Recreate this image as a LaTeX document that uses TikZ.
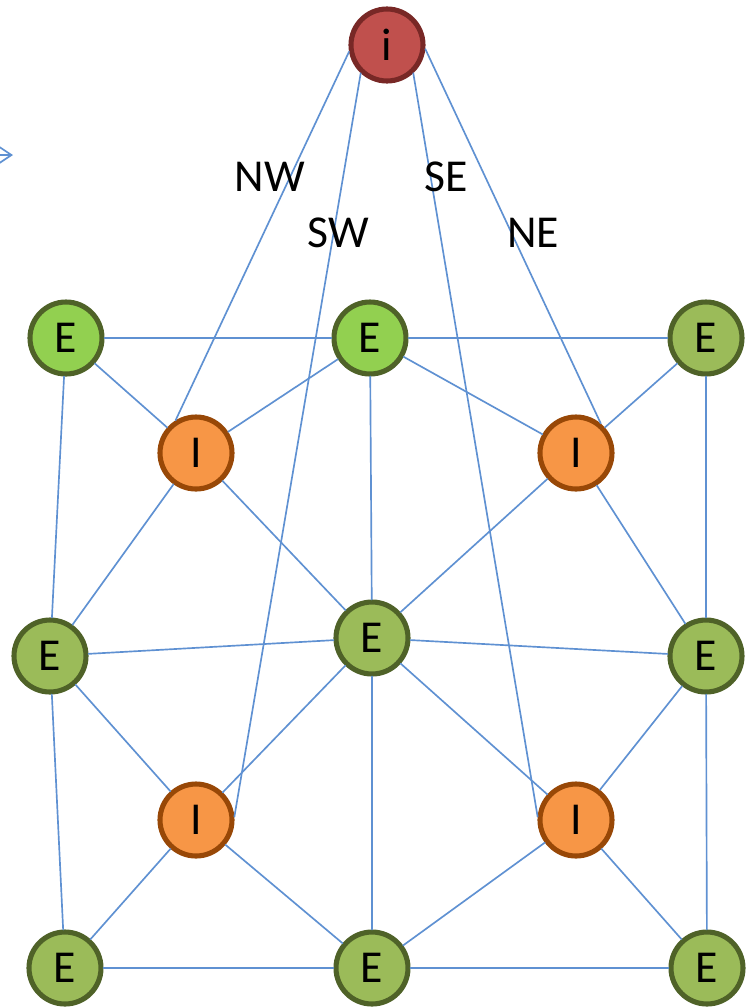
\documentclass[tikz,border=0pt]{standalone}
\usepackage{fontspec}
\setmainfont{Carlito}
\usetikzlibrary{arrows.meta}
\definecolor{edgeblue}{RGB}{95,145,210}
\definecolor{eolive}{RGB}{155,187,89}
\definecolor{elight}{RGB}{146,208,80}
\definecolor{eborder}{RGB}{79,98,40}
\definecolor{iorange}{RGB}{247,150,70}
\definecolor{iborder}{RGB}{152,72,7}
\definecolor{rred}{RGB}{192,80,77}
\definecolor{rborder}{RGB}{120,40,38}
\tikzset{
  vtx/.style={circle, minimum size=1.44cm, inner sep=0pt, line width=2.9pt,
    font=\fontsize{26}{30}\selectfont},
  enode/.style={vtx, draw=eborder, fill=eolive},
  enodelight/.style={vtx, draw=eborder, fill=elight},
  inode/.style={vtx, draw=iborder, fill=iorange},
  rootnode/.style={vtx, draw=rborder, fill=rred},
  link/.style={edgeblue, line width=0.95pt},
  dirlabel/.style={font=\fontsize{26}{30}\selectfont, inner sep=0pt}
}
\begin{document}
\begin{tikzpicture}[x=0.02cm, y=-0.02cm, line join=round, line cap=round]
  \useasboundingbox (0,0) rectangle (750,1008);
  \clip (0,0) rectangle (750,1008);
  % top node
  \node[rootnode] (root) at (387,45) {i};
  % corner and middle nodes
  \node[enodelight] (eTL) at (66,338) {E};
  \node[enodelight] (eTM) at (370,338) {E};
  \node[enode] (eTR) at (706,338) {E};
  \node[enode] (eML) at (50,656) {E};
  \node[enode] (eMC) at (372,638) {E};
  \node[enode] (eMR) at (706,656) {E};
  \node[enode] (eBL) at (65,968) {E};
  \node[enode] (eBM) at (372,968) {E};
  \node[enode] (eBR) at (707,968) {E};
  % interior nodes
  \node[inode] (iUL) at (196,453) {I};
  \node[inode] (iUR) at (576,453) {I};
  \node[inode] (iLL) at (196,820) {I};
  \node[inode] (iLR) at (576,820) {I};
  % mesh edges
  \foreach \a/\b in {eTL/eTM, eTM/eTR, eTL/iUL, eTM/iUL, eTM/iUR, eTR/iUR,
      eTL/eML, eTM/eMC, eTR/eMR, iUL/eML, iUL/eMC, iUR/eMC, iUR/eMR,
      eML/eMC, eMC/eMR, eML/iLL, eMC/iLL, eMC/iLR, eMR/iLR,
      eML/eBL, eMC/eBM, eMR/eBR, iLL/eBL, iLL/eBM, iLR/eBM, iLR/eBR,
      eBL/eBM, eBM/eBR}
    \draw[link] (\a) -- (\b);
  % edges from the top node
  \draw[link] (root.190) -- (iUL.122);
  \draw[link] (root.227) -- (iLL.5);
  \draw[link] (root.313) -- (iLR.175);
  \draw[link] (root.354) -- (iUR.50);
  \node[dirlabel] (lblNW) at (270,177) {NW};
  \node[dirlabel] (lblSE) at (446,177) {SE};
  \node[dirlabel] (lblSW) at (338,233) {SW};
  \node[dirlabel] (lblNE) at (533,233) {NE};
  % arrow cut by the left edge
  \coordinate (arrowtail) at (-60,155);
  \coordinate (arrowtip) at (13,155);
  \draw[link, -{Straight Barb[length=0.3cm, width=0.4cm]}] (arrowtail) -- (arrowtip);
\end{tikzpicture}
\end{document}
